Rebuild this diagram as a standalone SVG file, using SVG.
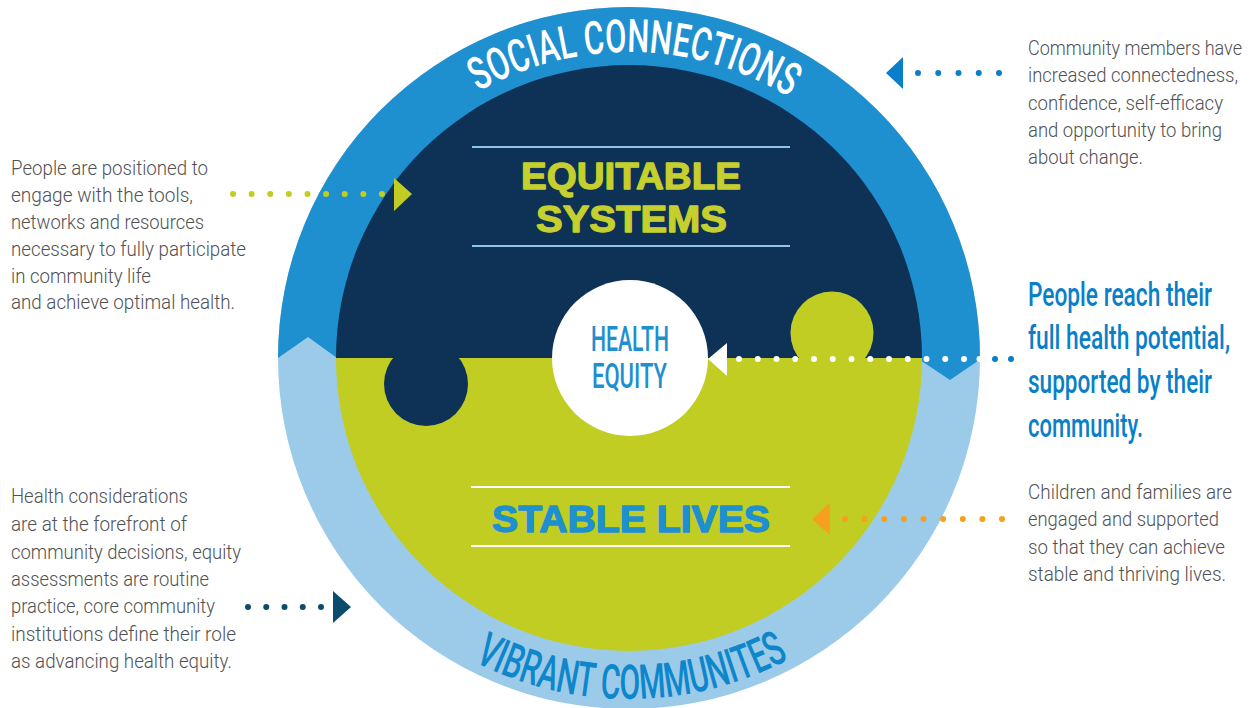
<svg xmlns="http://www.w3.org/2000/svg" width="1251" height="708" viewBox="0 0 1251 708">
  <style>
    .body { font-family: Roboto, "Liberation Sans", sans-serif; font-weight: 300; font-size: 20.5px; fill: #505153; }
    .lead { font-family: Roboto, "Liberation Sans", sans-serif; font-weight: 500; font-size: 33px; fill: #0a7fc9; }
    .arc { font-family: Roboto, "Liberation Sans", sans-serif; font-weight: 500; }
    .heavy { font-family: "Liberation Sans", Arial, sans-serif; font-weight: 700; font-size: 37px; text-anchor: middle; stroke-width: 1.3; stroke-linejoin: round; }
    .hub { font-family: Roboto, "Liberation Sans", sans-serif; font-weight: 500; font-size: 35px; fill: #1e8fcf; text-anchor: middle; }
    .dots { stroke-width: 6; stroke-linecap: round; fill: none; }
  </style>
  <defs>
    <clipPath id="outerClip"><circle cx="629" cy="358" r="351"/></clipPath>
    <clipPath id="innerClip"><circle cx="629" cy="358" r="293"/></clipPath>
    <path id="topArc" d="M 478.3 91.7 A 306 306 0 0 1 788.9 97.1"/>
    <path id="bottomArc" d="M 474.2 661.8 A 341 341 0 0 0 789.1 659.1"/>
  </defs>

  <rect width="1251" height="708" fill="#ffffff"/>

  <!-- outer ring: social connections (top) flowing into vibrant communities (bottom) -->
  <g id="ring">
    <circle cx="629" cy="358" r="351" fill="#9ccbe9"/>
    <path clip-path="url(#outerClip)" fill="#1e8fcf"
          d="M 260 358 L 278 358 L 308 337 L 337 358 L 917 358 L 950 380 L 982 358 L 1000 358 L 1000 0 L 260 0 Z"/>
    <text class="arc" font-size="46" fill="#ffffff">
      <textPath href="#topArc" textLength="326" lengthAdjust="spacingAndGlyphs">SOCIAL CONNECTIONS</textPath>
    </text>
    <text class="arc" font-size="48" fill="#0e86cb">
      <textPath href="#bottomArc" textLength="327" lengthAdjust="spacingAndGlyphs">VIBRANT COMMUNITES</textPath>
    </text>
  </g>

  <!-- inner disc: equitable systems / stable lives puzzle -->
  <g id="core" clip-path="url(#innerClip)">
    <rect x="336" y="60" width="590" height="298" fill="#0d3256"/>
    <rect x="336" y="358" width="590" height="300" fill="#c1cd22"/>
    <circle cx="832" cy="333" r="41.5" fill="#c1cd22"/>
    <circle cx="426" cy="384" r="42" fill="#0d3256"/>
  </g>

  <g id="equitable-systems">
    <line x1="472" y1="147" x2="790" y2="147" stroke="#8fc6e8" stroke-width="2"/>
    <line x1="472" y1="246" x2="790" y2="246" stroke="#8fc6e8" stroke-width="2"/>
    <text class="heavy" x="631" y="189" fill="#c5cf2e" stroke="#c5cf2e" textLength="220" lengthAdjust="spacingAndGlyphs">EQUITABLE</text>
    <text class="heavy" x="631.5" y="232" fill="#c5cf2e" stroke="#c5cf2e" textLength="191" lengthAdjust="spacingAndGlyphs">SYSTEMS</text>
  </g>

  <g id="stable-lives">
    <line x1="471" y1="487" x2="790" y2="487" stroke="#ffffff" stroke-width="2"/>
    <line x1="471" y1="546" x2="790" y2="546" stroke="#ffffff" stroke-width="2"/>
    <text class="heavy" x="631" y="532" fill="#1e8fcf" stroke="#1e8fcf" textLength="278" lengthAdjust="spacingAndGlyphs">STABLE LIVES</text>
  </g>

  <g id="health-equity">
    <circle cx="630" cy="358" r="78" fill="#ffffff"/>
    <text class="hub" x="630" y="351" textLength="78" lengthAdjust="spacingAndGlyphs">HEALTH</text>
    <text class="hub" x="629.5" y="388" textLength="75" lengthAdjust="spacingAndGlyphs">EQUITY</text>
  </g>

  <!-- dotted pointers -->
  <g id="connectors">
    <g id="to-social">
      <line class="dots" x1="918" y1="73" x2="1000" y2="73" stroke="#0a7fc9" stroke-dasharray="0 20.25"/>
      <polygon points="886,73 903,57 903,89" fill="#0a7fc9"/>
    </g>
    <g id="to-equitable">
      <line class="dots" x1="233" y1="194" x2="383" y2="194" stroke="#c1cd22" stroke-dasharray="0 18.625"/>
      <polygon points="412,194 394,178 394,211" fill="#c1cd22"/>
    </g>
    <g id="to-vibrant">
      <line class="dots" x1="248" y1="607" x2="322" y2="607" stroke="#0b4c6c" stroke-dasharray="0 18.25"/>
      <polygon points="351,607 333,591 333,623" fill="#0b4c6c"/>
    </g>
    <g id="to-health-equity">
      <line class="dots" x1="739" y1="359" x2="965" y2="359" stroke="#ffffff" stroke-dasharray="0 18.75"/>
      <circle cx="979.5" cy="359" r="3" fill="#ffffff"/>
      <circle cx="995" cy="359" r="3" fill="#0a7fc9"/>
      <circle cx="1011" cy="359" r="3" fill="#0a7fc9"/>
      <polygon points="708,359 727,343 727,376" fill="#ffffff"/>
    </g>
    <g id="to-stable">
      <line class="dots" x1="845" y1="519" x2="1003" y2="519" stroke="#f5a01f" stroke-dasharray="0 19.625"/>
      <polygon points="812,519 830,503 830,535" fill="#f5a01f"/>
    </g>
  </g>

  <g id="note-equitable">
    <text class="body" x="11" y="175" textLength="197" lengthAdjust="spacingAndGlyphs">People are positioned to</text>
    <text class="body" x="11" y="202" textLength="182" lengthAdjust="spacingAndGlyphs">engage with the tools,</text>
    <text class="body" x="11" y="229" textLength="193" lengthAdjust="spacingAndGlyphs">networks and resources</text>
    <text class="body" x="11" y="256" textLength="235" lengthAdjust="spacingAndGlyphs">necessary to fully participate</text>
    <text class="body" x="11" y="283" textLength="140" lengthAdjust="spacingAndGlyphs">in community life</text>
    <text class="body" x="11" y="309" textLength="224" lengthAdjust="spacingAndGlyphs">and achieve optimal health.</text>
  </g>

  <g id="note-vibrant">
    <text class="body" x="11" y="503" textLength="177" lengthAdjust="spacingAndGlyphs">Health considerations</text>
    <text class="body" x="11" y="531" textLength="176" lengthAdjust="spacingAndGlyphs">are at the forefront of</text>
    <text class="body" x="11" y="559" textLength="230" lengthAdjust="spacingAndGlyphs">community decisions, equity</text>
    <text class="body" x="11" y="586" textLength="198" lengthAdjust="spacingAndGlyphs">assessments are routine</text>
    <text class="body" x="11" y="613" textLength="204" lengthAdjust="spacingAndGlyphs">practice, core community</text>
    <text class="body" x="11" y="641" textLength="225" lengthAdjust="spacingAndGlyphs">institutions define their role</text>
    <text class="body" x="11" y="668" textLength="221" lengthAdjust="spacingAndGlyphs">as advancing health equity.</text>
  </g>

  <g id="note-social">
    <text class="body" x="1028" y="55" textLength="214" lengthAdjust="spacingAndGlyphs">Community members have</text>
    <text class="body" x="1028" y="82" textLength="210" lengthAdjust="spacingAndGlyphs">increased connectedness,</text>
    <text class="body" x="1028" y="110" textLength="195" lengthAdjust="spacingAndGlyphs">confidence, self-efficacy</text>
    <text class="body" x="1028" y="137" textLength="194" lengthAdjust="spacingAndGlyphs">and opportunity to bring</text>
    <text class="body" x="1028" y="164" textLength="115" lengthAdjust="spacingAndGlyphs">about change.</text>
  </g>

  <g id="note-outcome">
    <text class="lead" x="1028" y="306" textLength="184" lengthAdjust="spacingAndGlyphs">People reach their</text>
    <text class="lead" x="1028" y="349" textLength="202" lengthAdjust="spacingAndGlyphs">full health potential,</text>
    <text class="lead" x="1028" y="393" textLength="184" lengthAdjust="spacingAndGlyphs">supported by their</text>
    <text class="lead" x="1028" y="437" textLength="115" lengthAdjust="spacingAndGlyphs">community.</text>
  </g>

  <g id="note-stable">
    <text class="body" x="1028" y="499" textLength="204" lengthAdjust="spacingAndGlyphs">Children and families are</text>
    <text class="body" x="1028" y="526" textLength="191" lengthAdjust="spacingAndGlyphs">engaged and supported</text>
    <text class="body" x="1028" y="554" textLength="197" lengthAdjust="spacingAndGlyphs">so that they can achieve</text>
    <text class="body" x="1028" y="581" textLength="198" lengthAdjust="spacingAndGlyphs">stable and thriving lives.</text>
  </g>
</svg>
